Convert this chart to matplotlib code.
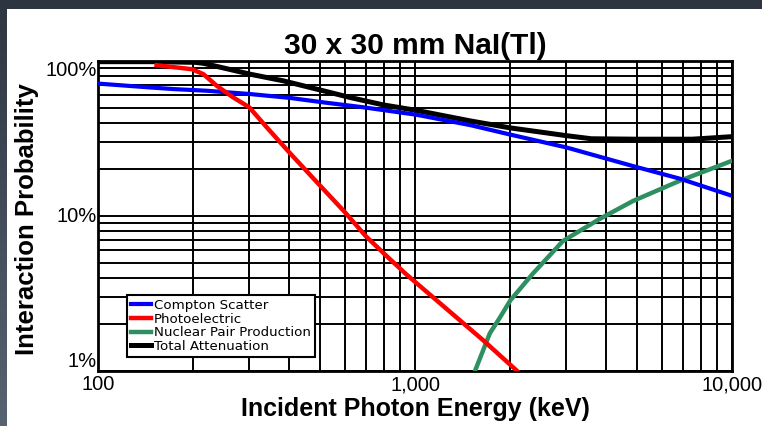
import numpy as np
import matplotlib
matplotlib.use("Agg")
import matplotlib.pyplot as plt
from matplotlib.ticker import FixedLocator, NullFormatter, LogLocator

plt.rcParams['font.family'] = ['Liberation Sans', 'DejaVu Sans']

# Data (energy in keV, probability in %)
compton_e = [100, 146, 173, 220, 302, 403, 513, 686, 1011, 1500, 2000, 3000, 4870, 6855, 10000]
compton_p = [71.5, 67.5, 65.9, 64.3, 61.2, 57.8, 54.1, 50.3, 45, 38.5, 33.5, 27.7, 21, 17.4, 13.5]

photo_e = [153, 198, 215, 237, 267, 300, 340, 400, 499, 598, 700, 800, 939, 1640, 2100]
photo_p = [93.9, 88.5, 82.2, 69.2, 58.2, 50.3, 37.5, 25.9, 15.9, 10.7, 7.4, 5.7, 4.2, 1.58, 1.0]

pair_e = [1546, 1722, 1850, 2000, 2357, 2930, 3834, 4872, 6855, 10000]
pair_p = [1.0, 1.75, 2.2, 2.86, 4.26, 6.9, 9.6, 12.5, 16.9, 22.7]

total_e = [100, 150, 203, 215, 254, 302, 384, 489, 623, 794, 1011, 1500, 2000, 3000, 3600, 5000, 7500, 10000]
total_p = [99, 99, 98, 96.6, 89.3, 82.2, 74.5, 65.9, 58.2, 52.1, 48, 41, 37, 33, 31.5, 31.3, 31.3, 32.5]

series_labels = ["Compton Scatter", "Photoelectric", "Nuclear Pair Production", "Total Attenuation"]
x_ticks = [100, 1000, 10000]
x_ticklabels = ["100", "1,000", "10,000"]
y_ticks = [1, 10, 100]
y_ticklabels = ["1%", "10%", "100%"]

W, H = 762, 426
fig = plt.figure(figsize=(W / 100, H / 100), dpi=100)
fig.patch.set_facecolor('white')

# dark frame: top band and left gradient strip
top_ax = fig.add_axes([0, (H - 9) / H, 1, 9 / H])
top_ax.set_axis_off()
top_ax.imshow(np.array([[[0.176, 0.208, 0.251]]]), aspect='auto', extent=[0, 1, 0, 1])
left_ax = fig.add_axes([0, 0, 7 / W, (H - 9) / H])
left_ax.set_axis_off()
grad = np.linspace(0, 1, 200)[:, None]
c0 = np.array([0.18, 0.215, 0.26])
c1 = np.array([0.34, 0.39, 0.44])
img = (c0[None, None, :] * (1 - grad[:, :, None]) + c1[None, None, :] * grad[:, :, None])
left_ax.imshow(img, aspect='auto', extent=[0, 1, 0, 1])

ax = fig.add_axes([98 / W, (H - 371) / H, (732 - 98) / W, (371 - 61) / H])
ax.set_xscale('log')
ax.set_yscale('log')
ax.set_xlim(100, 10000)
ax.set_ylim(1, 100)

ax.plot(pair_e, pair_p, color='#2e9060', lw=3.2, label=series_labels[2], zorder=3)
ax.plot(total_e, total_p, color='black', lw=3.6, label=series_labels[3], zorder=4)
ax.plot(compton_e, compton_p, color='#0000ff', lw=3.0, label=series_labels[0], zorder=5)
ax.plot(photo_e, photo_p, color='#ff0000', lw=3.2, label=series_labels[1], zorder=6)

ax.xaxis.set_major_locator(FixedLocator(x_ticks))
ax.yaxis.set_major_locator(FixedLocator(y_ticks))
ax.xaxis.set_minor_locator(LogLocator(base=10, subs=np.arange(2, 10)))
ax.yaxis.set_minor_locator(LogLocator(base=10, subs=np.arange(2, 10)))
ax.xaxis.set_minor_formatter(NullFormatter())
ax.yaxis.set_minor_formatter(NullFormatter())
ax.set_xticklabels(x_ticklabels, fontsize=14.5)
ax.set_yticklabels(y_ticklabels, fontsize=14.5)
ax.tick_params(which='both', length=0)
ax.tick_params(axis='x', pad=3)
ax.tick_params(axis='y', pad=1)
for lab, va in zip(ax.get_yticklabels(), ['bottom', 'center', 'top']):
    lab.set_va(va)

ax.grid(True, which='both', color='black', lw=1.4, zorder=1)
ax.set_axisbelow(True)
for s in ax.spines.values():
    s.set_linewidth(2.0)
    s.set_color('black')

ax.set_title("30 x 30 mm NaI(Tl)", fontsize=21.5, fontweight='bold', pad=5)
ax.set_xlabel("Incident Photon Energy (keV)", fontsize=18, fontweight='bold')
ax.set_ylabel("Interaction Probability", fontsize=18.5, fontweight='bold')
ax.xaxis.set_label_coords(0.5, -0.084)
ax.yaxis.set_label_coords(-0.093, 0.49)

handles, labels = ax.get_legend_handles_labels()
order = [2, 3, 0, 1]
leg = ax.legend([handles[i] for i in order], [labels[i] for i in order],
                loc='lower left', bbox_to_anchor=(0.045, 0.045),
                prop={'family': 'DejaVu Sans', 'size': 9.6},
                frameon=True, fancybox=False, framealpha=1, edgecolor='black',
                borderpad=0.3, labelspacing=0.05, handlelength=1.5, handletextpad=0.25,
                borderaxespad=0)
leg.get_frame().set_linewidth(1.5)
leg.set_zorder(10)

fig.savefig("out.png", dpi=100)
